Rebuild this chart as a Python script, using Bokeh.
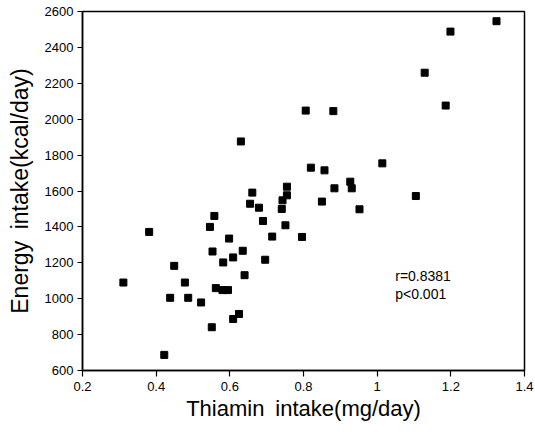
from bokeh.plotting import figure
from bokeh.models import FixedTicker, Range1d, Label
from bokeh.embed import file_html
from bokeh.resources import INLINE

thiamin = [0.311, 0.381, 0.422, 0.438, 0.449, 0.478, 0.487, 0.522, 0.546, 0.558,
           0.553, 0.551, 0.562, 0.582, 0.580, 0.595, 0.598, 0.609, 0.609, 0.625,
           0.635, 0.640, 0.630, 0.661, 0.655, 0.679, 0.690, 0.696, 0.715, 0.741,
           0.743, 0.751, 0.755, 0.755, 0.796, 0.806, 0.820, 0.850, 0.857, 0.881,
           0.884, 0.927, 0.931, 0.952, 1.014, 1.105, 1.129, 1.186, 1.199, 1.324]
energy = [1090, 1372, 687, 1005, 1183, 1090, 1005, 979, 1400, 1461,
          1263, 841, 1059, 1202, 1048, 1048, 1335, 1230, 887, 915,
          1267, 1131, 1876, 1591, 1529, 1507, 1433, 1217, 1346, 1500,
          1548, 1409, 1576, 1624, 1344, 2048, 1730, 1541, 1715, 2045,
          1615, 1652, 1615, 1498, 1754, 1572, 2259, 2076, 2488, 2546]

x_ticks = [0.2, 0.4, 0.6, 0.8, 1.0, 1.2, 1.4]
x_tick_labels = ["0.2", "0.4", "0.6", "0.8", "1", "1.2", "1.4"]
y_ticks = [600, 800, 1000, 1200, 1400, 1600, 1800, 2000, 2200, 2400, 2600]

p = figure(width=535, height=436, output_backend="svg", toolbar_location=None,
           x_range=Range1d(0.2, 1.4), y_range=Range1d(600, 2600),
           min_border_left=82, min_border_right=11, min_border_top=11, min_border_bottom=66)
p.xgrid.visible = False
p.ygrid.visible = False
p.outline_line_color = "black"
p.outline_line_width = 1.5

p.scatter(thiamin, energy, marker="square", size=7, color="black")

for ax in (p.xaxis[0], p.yaxis[0]):
    ax.axis_line_width = 1.5
    ax.axis_line_color = "black"
    ax.major_tick_line_color = "black"
    ax.major_tick_line_width = 1.2
    ax.major_tick_in = 0
    ax.minor_tick_line_color = None
    ax.major_label_text_font = "Liberation Sans"
    ax.major_label_text_font_size = "13px"
    ax.major_label_text_color = "black"
    ax.axis_label_text_font = "Liberation Sans"
    ax.axis_label_text_font_style = "normal"
    ax.axis_label_text_color = "black"

p.xaxis[0].ticker = FixedTicker(ticks=x_ticks)
p.xaxis[0].major_label_overrides = {t: l for t, l in zip(x_ticks, x_tick_labels)}
p.xaxis[0].major_tick_out = 6
p.xaxis[0].major_label_standoff = 5
p.xaxis[0].axis_label = "Thiamin\u2002intake(mg/day)"
p.xaxis[0].axis_label_text_font_size = "22px"
p.xaxis[0].axis_label_standoff = 2

p.yaxis[0].ticker = FixedTicker(ticks=y_ticks)
p.yaxis[0].major_tick_out = 5
p.yaxis[0].major_label_standoff = 4
p.yaxis[0].axis_label = "Energy\u2002intake(kcal/day)"
p.yaxis[0].axis_label_text_font_size = "23px"
p.yaxis[0].axis_label_standoff = 9

p.add_layout(Label(x=1.049, y=1129, text="r=0.8381", text_font="Liberation Sans",
                   text_font_size="14px", text_baseline="middle", text_color="black"))
p.add_layout(Label(x=1.049, y=1027, text="p<0.001", text_font="Liberation Sans",
                   text_font_size="14px", text_baseline="middle", text_color="black"))

open("out.html", "w").write(file_html(p, INLINE))
